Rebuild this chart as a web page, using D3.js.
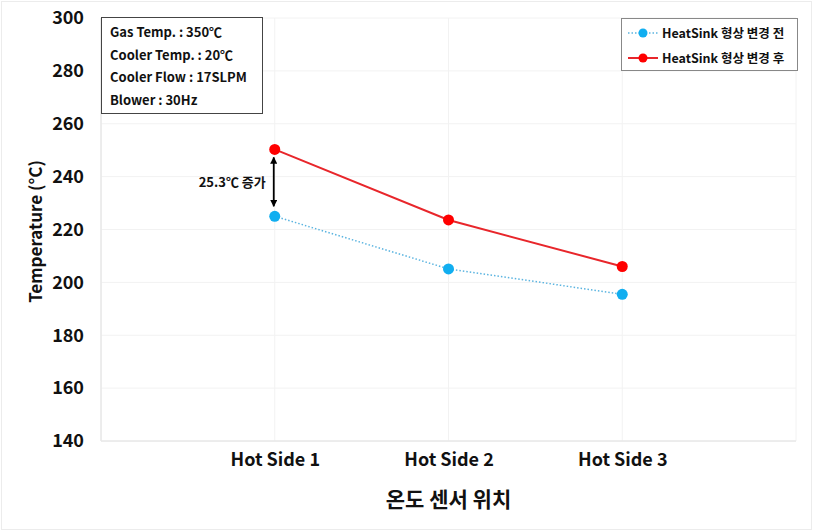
<!DOCTYPE html>
<html><head><meta charset="utf-8">
<script src="https://cdn.jsdelivr.net/npm/d3@7"></script>
<style>body{margin:0;background:#fff}svg{display:block}</style>
</head><body>
<script>
const categories = ["Hot Side 1", "Hot Side 2", "Hot Side 3"];
const seriesNames = ["HeatSink 형상 변경 전", "HeatSink 형상 변경 후"];
const beforeValues = [225.0, 205.1, 195.5];
const afterValues = [250.3, 223.6, 206.0];
const yTicks = [140, 160, 180, 200, 220, 240, 260, 280, 300];
const infoLines = ["Gas Temp. : 350℃", "Cooler Temp. : 20℃", "Cooler Flow : 17SLPM", "Blower : 30Hz"];
const annotation = "25.3℃ 증가";

const W = 813, H = 531;
const m = {l: 101, r: 796, t: 18, b: 441};
const font = "'Noto Sans CJK KR','Malgun Gothic',sans-serif";

const svg = d3.select("body").append("svg").attr("width", W).attr("height", H)
  .style("font-family", font);

svg.append("rect").attr("x", 1.5).attr("y", 1.5).attr("width", W - 3).attr("height", H - 3)
  .attr("fill", "#fff").attr("stroke", "#ececec");

const x = d3.scaleLinear().domain([0, categories.length + 1]).range([m.l, m.r]);
const y = d3.scaleLinear().domain([140, 300]).range([m.b, m.t]);

// gridlines
const g = svg.append("g");
g.selectAll(".hg").data(yTicks).join("line")
  .attr("x1", m.l).attr("x2", m.r).attr("y1", d => y(d)).attr("y2", d => y(d))
  .attr("stroke", "#f2f2f2").attr("stroke-width", 1);
g.selectAll(".vg").data(d3.range(0, categories.length + 2)).join("line")
  .attr("y1", m.t).attr("y2", m.b).attr("x1", d => x(d)).attr("x2", d => x(d))
  .attr("stroke", "#f2f2f2").attr("stroke-width", 1);
svg.append("line").attr("x1", m.l).attr("x2", m.r).attr("y1", m.b).attr("y2", m.b)
  .attr("stroke", "#e8e8e8").attr("stroke-width", 1.5);
svg.append("line").attr("x1", m.l).attr("x2", m.l).attr("y1", m.t).attr("y2", m.b)
  .attr("stroke", "#e8e8e8").attr("stroke-width", 1.5);

// y axis
const yAxis = d3.axisLeft(y).tickValues(yTicks).tickSize(0).tickPadding(17);
const ya = svg.append("g").attr("transform", `translate(${m.l},0)`).call(yAxis);
ya.select(".domain").remove();
ya.selectAll("text").style("font-family", font).style("font-size", "18px")
  .style("font-weight", "bold").attr("fill", "#111");

// x axis
const xAxis = d3.axisBottom(x).tickValues(d3.range(1, categories.length + 1))
  .tickFormat(i => categories[i - 1]).tickSize(0).tickPadding(12);
const xa = svg.append("g").attr("transform", `translate(0,${m.b})`).call(xAxis);
xa.select(".domain").remove();
xa.selectAll("text").style("font-family", font).style("font-size", "18px")
  .style("font-weight", "bold").attr("fill", "#111");

// axis titles
svg.append("text").attr("transform", `translate(42,${(m.t + m.b) / 2 + 2}) rotate(-90)`)
  .attr("text-anchor", "middle").style("font-size", "17px").style("font-weight", "bold")
  .attr("fill", "#111").text("Temperature (°C)");
svg.append("text").attr("x", x(2)).attr("y", 507).attr("text-anchor", "middle")
  .style("font-size", "21px").style("font-weight", "bold").attr("fill", "#111").text("온도 센서 위치");

// lines
const line = d3.line().x((d, i) => x(i + 1)).y(d => y(d));
svg.append("path").datum(beforeValues).attr("d", line).attr("fill", "none")
  .attr("stroke", "#5bb4e0").attr("stroke-width", 1.5).attr("stroke-dasharray", "1.5,2");
svg.append("path").datum(afterValues).attr("d", line).attr("fill", "none")
  .attr("stroke", "#e8262b").attr("stroke-width", 2);
svg.selectAll(".pb").data(beforeValues).join("circle")
  .attr("cx", (d, i) => x(i + 1)).attr("cy", d => y(d)).attr("r", 5.5).attr("fill", "#11aef0");
svg.selectAll(".pa").data(afterValues).join("circle")
  .attr("cx", (d, i) => x(i + 1)).attr("cy", d => y(d)).attr("r", 5.5).attr("fill", "#ff0000");

// annotation arrow
const defs = svg.append("defs");
defs.append("marker").attr("id", "ah").attr("viewBox", "0 0 10 10").attr("refX", 9).attr("refY", 5)
  .attr("markerWidth", 4).attr("markerHeight", 4).attr("orient", "auto-start-reverse")
  .append("path").attr("d", "M0,0L10,5L0,10z").attr("fill", "#000");
const ax = x(1) - 1;
svg.append("line").attr("x1", ax).attr("x2", ax)
  .attr("y1", y(afterValues[0]) + 8).attr("y2", y(beforeValues[0]) - 10)
  .attr("stroke", "#000").attr("stroke-width", 1.8)
  .attr("marker-start", "url(#ah)").attr("marker-end", "url(#ah)");
svg.append("text").attr("x", ax - 8).attr("y", (y(afterValues[0]) + y(beforeValues[0])) / 2 + 4)
  .attr("text-anchor", "end").style("font-size", "13px").style("font-weight", "bold")
  .attr("fill", "#111").text(annotation);

// info box
const ib = svg.append("g");
ib.append("rect").attr("x", 101.5).attr("y", 17.5).attr("width", 161).attr("height", 96)
  .attr("fill", "#fff").attr("stroke", "#444").attr("stroke-width", 1);
ib.selectAll("text").data(infoLines).join("text")
  .attr("x", 110).attr("y", (d, i) => 37 + i * 22.5)
  .style("font-size", "13px").style("font-weight", "bold").attr("fill", "#111").text(d => d);

// legend
const lg = svg.append("g");
lg.append("rect").attr("x", 621.5).attr("y", 18.5).attr("width", 176).attr("height", 52)
  .attr("fill", "#fff").attr("stroke", "#888").attr("stroke-width", 1);
const legItems = [
  {name: seriesNames[0], stroke: "#5bb4e0", fill: "#11aef0", dash: "1.5,2", w: 1.5},
  {name: seriesNames[1], stroke: "#e8262b", fill: "#ff0000", dash: null, w: 2}
];
legItems.forEach((it, i) => {
  const cy = 33 + i * 25;
  lg.append("line").attr("x1", 628).attr("x2", 658).attr("y1", cy).attr("y2", cy)
    .attr("stroke", it.stroke).attr("stroke-width", it.w).attr("stroke-dasharray", it.dash);
  lg.append("circle").attr("cx", 643).attr("cy", cy).attr("r", 4.5).attr("fill", it.fill);
  lg.append("text").attr("x", 662).attr("y", cy + 4.5).style("font-size", "12.5px")
    .style("font-weight", "bold").attr("fill", "#111").text(it.name);
});
</script>
</body></html>
